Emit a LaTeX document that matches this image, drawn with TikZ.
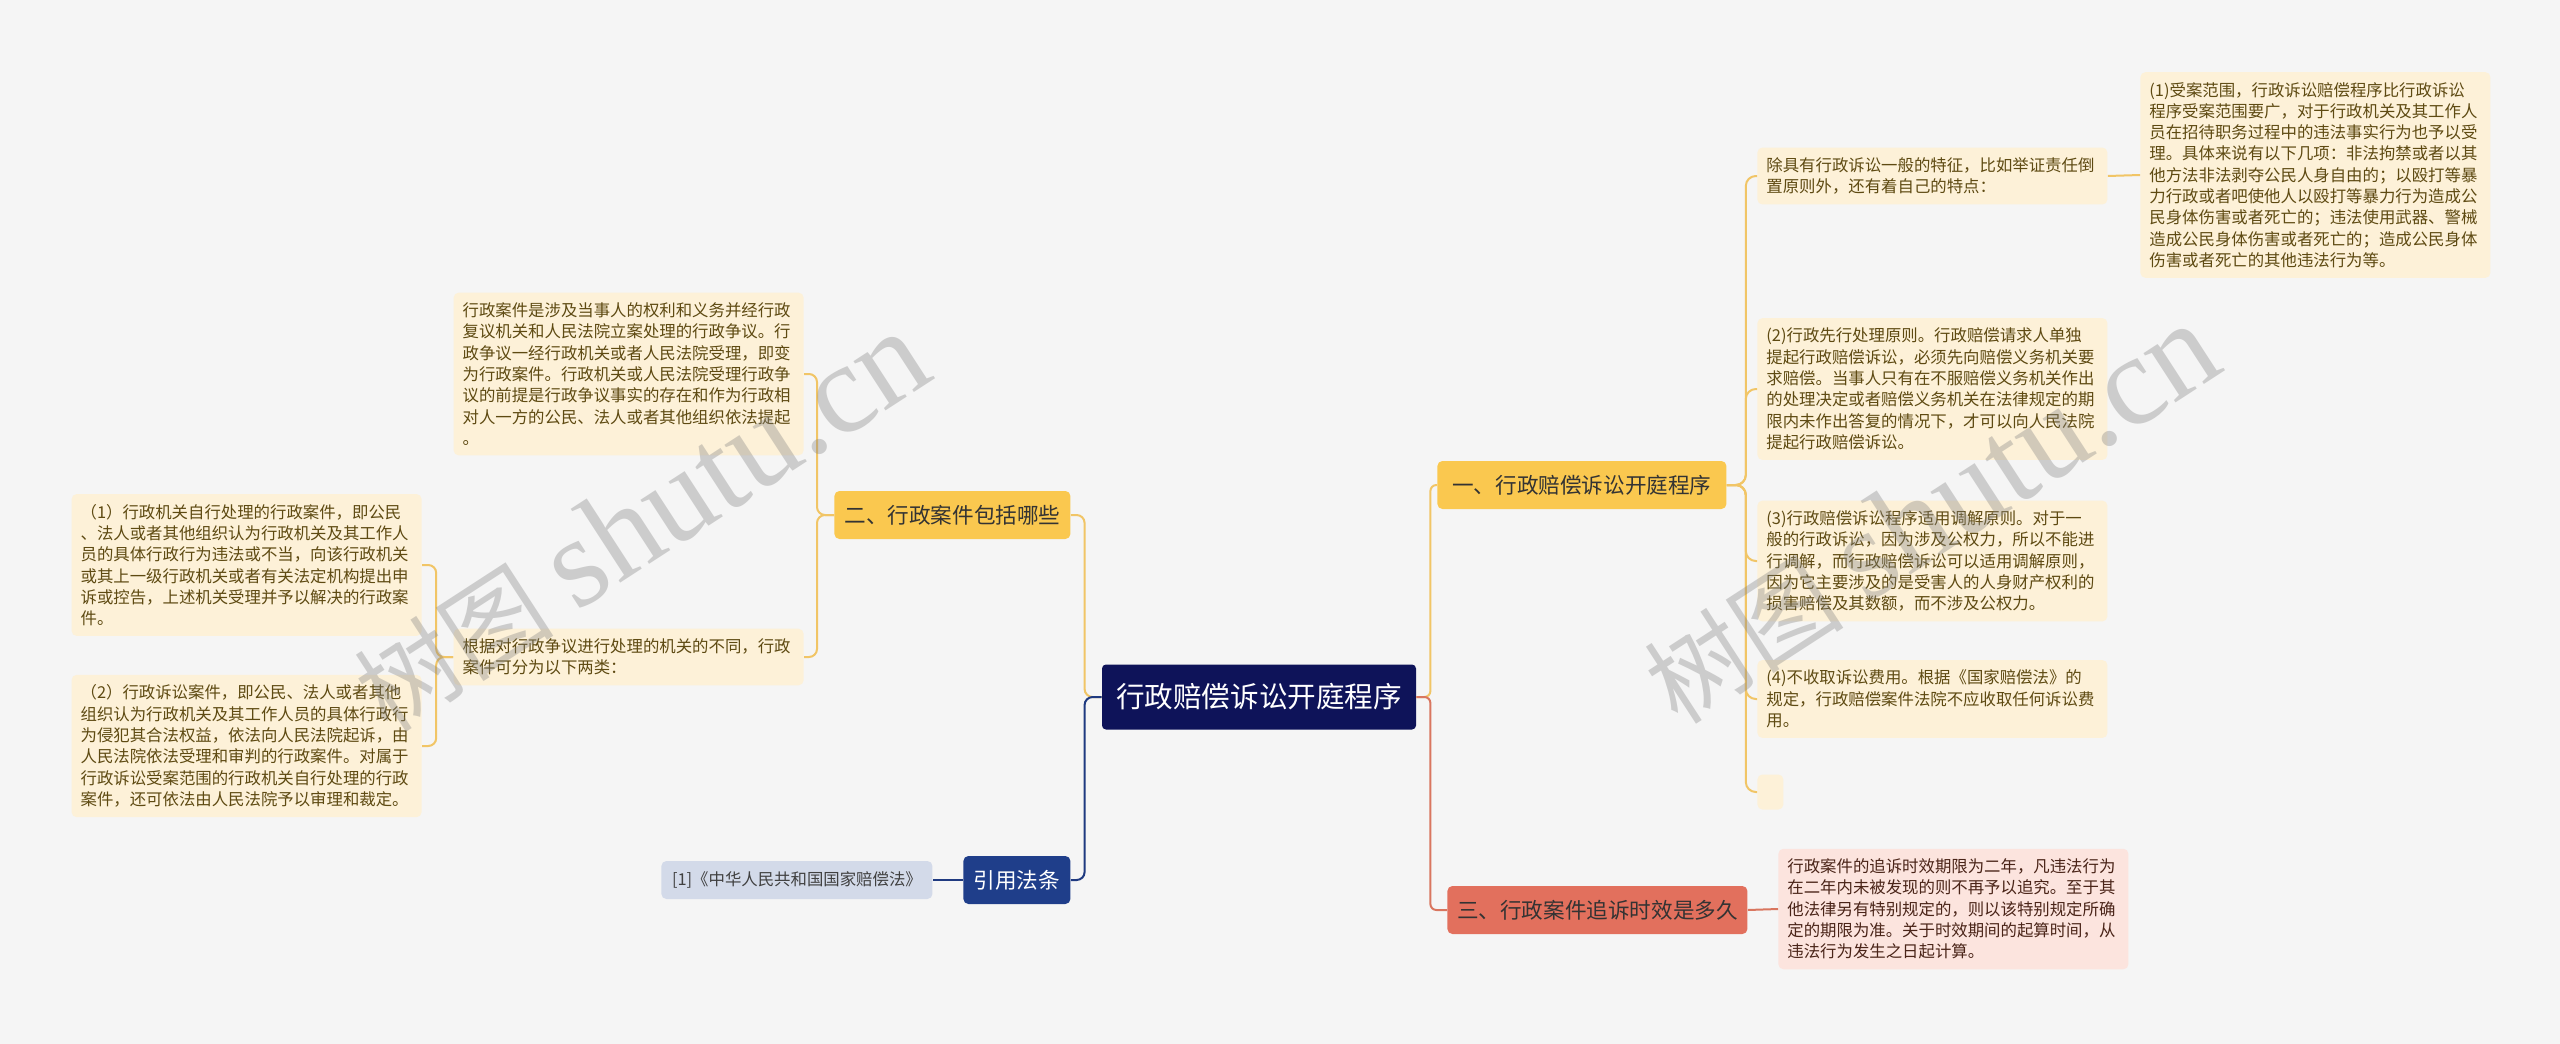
\documentclass[tikz,border=0pt]{standalone}
\usepackage{fontspec}
\setmainfont{Noto Sans CJK SC}
\newfontfamily\markfont{Liberation Serif}
\usetikzlibrary{positioning}
\definecolor{pagebg}{HTML}{F5F5F5}
\definecolor{rootnavy}{HTML}{0E1359}
\definecolor{goldfill}{HTML}{FAC84F}
\definecolor{goldline}{HTML}{F1C566}
\definecolor{creamfill}{HTML}{FDF1D8}
\definecolor{creamtext}{HTML}{5E4A12}
\definecolor{lawblue}{HTML}{1F3E8A}
\definecolor{lawline}{HTML}{1F3A80}
\definecolor{reffill}{HTML}{D3DAE9}
\definecolor{salmonfill}{HTML}{E2705D}
\definecolor{salmonline}{HTML}{D9765F}
\definecolor{pinkfill}{HTML}{FCE4DE}
\definecolor{pinktext}{HTML}{4A2418}
\newcommand{\marktext}{{\fontsize{50pt}{56pt}\selectfont 树图}\hspace{12pt}{\markfont\fontsize{64pt}{70pt}\selectfont shutu.cn}}

\begin{document}
\begin{tikzpicture}[x=0.5pt, y=-0.5pt,
  rootbox/.style={fill=rootnavy, rounded corners=2pt, text=white,
                  font=\fontsize{14.3pt}{16pt}\selectfont,
                  minimum width=157pt, minimum height=32.5pt, inner sep=0pt},
  topicbox/.style={rounded corners=2.5pt, font=\fontsize{10.8pt}{13pt}\selectfont,
                   minimum height=24pt, inner sep=0pt},
  goldtopic/.style={topicbox, fill=goldfill, text=black!80},
  leafbox/.style={rounded corners=2.5pt, fill=creamfill, text=creamtext,
                  text width=166pt, align=left, inner xsep=4.5pt, inner ysep=5pt,
                  font=\fontsize{8.2pt}{10.65pt}\selectfont},
  wire/.style={line width=1pt, rounded corners=5pt},
  goldwire/.style={wire, draw=goldline},
  navywire/.style={wire, draw=lawline},
  salmonwire/.style={wire, draw=salmonline},
  watermark/.style={rotate=33, text=gray, opacity=0.35, inner sep=0pt},
]
\fill[pagebg] (0,0) rectangle (2560,1044);
\useasboundingbox (0,0) rectangle (2560,1044);

% centre
\node[rootbox] (root) at (1259,697) {行政赔偿诉讼开庭程序};

% left side
\node[goldtopic, anchor=west, minimum width=118pt] (cases) at (834,515) {二、行政案件包括哪些};
\node[topicbox, anchor=west, fill=lawblue, text=white, minimum width=53.5pt] (law) at (963,880) {引用法条};
\node[topicbox, anchor=west, fill=reffill, text=black!75, minimum width=135.5pt,
      minimum height=19pt, font=\fontsize{8.2pt}{10pt}\selectfont] (lawref) at (661,880)
  {[1]《中华人民共和国国家赔偿法》};

\node[leafbox, anchor=east] (casedef) at (804,374)
  {行政案件是涉及当事人的权利和义务并经行政\\
   复议机关和人民法院立案处理的行政争议。行\\
   政争议一经行政机关或者人民法院受理，即变\\
   为行政案件。行政机关或人民法院受理行政争\\
   议的前提是行政争议事实的存在和作为行政相\\
   对人一方的公民、法人或者其他组织依法提起\\
   。};
\node[leafbox, anchor=east] (casekinds) at (804,657)
  {根据对行政争议进行处理的机关的不同，行政\\
   案件可分为以下两类：};
\node[leafbox, anchor=east] (kindone) at (422,565)
  {（1）行政机关自行处理的行政案件，即公民\\
   、法人或者其他组织认为行政机关及其工作人\\
   员的具体行政行为违法或不当，向该行政机关\\
   或其上一级行政机关或者有关法定机构提出申\\
   诉或控告，上述机关受理并予以解决的行政案\\
   件。};
\node[leafbox, anchor=east] (kindtwo) at (422,746)
  {（2）行政诉讼案件，即公民、法人或者其他\\
   组织认为行政机关及其工作人员的具体行政行\\
   为侵犯其合法权益，依法向人民法院起诉，由\\
   人民法院依法受理和审判的行政案件。对属于\\
   行政诉讼受案范围的行政机关自行处理的行政\\
   案件，还可依法由人民法院予以审理和裁定。};

% right side
\node[goldtopic, anchor=west, minimum width=144.5pt] (trial) at (1437,485) {一、行政赔偿诉讼开庭程序};
\node[topicbox, anchor=west, fill=salmonfill, text=black!80, minimum width=150pt] (limit) at (1447,910) {三、行政案件追诉时效是多久};

\node[leafbox, anchor=west] (traits) at (1757,176)
  {除具有行政诉讼一般的特征，比如举证责任倒\\
   置原则外，还有着自己的特点：};
\node[leafbox, anchor=west] (scope) at (2140,175)
  {(1)受案范围，行政诉讼赔偿程序比行政诉讼\\
   程序受案范围要广，对于行政机关及其工作人\\
   员在招待职务过程中的违法事实行为也予以受\\
   理。具体来说有以下几项：非法拘禁或者以其\\
   他方法非法剥夺公民人身自由的；以殴打等暴\\
   力行政或者吧使他人以殴打等暴力行为造成公\\
   民身体伤害或者死亡的；违法使用武器、警械\\
   造成公民身体伤害或者死亡的；造成公民身体\\
   伤害或者死亡的其他违法行为等。};
\node[leafbox, anchor=west] (first) at (1757,389)
  {(2)行政先行处理原则。行政赔偿请求人单独\\
   提起行政赔偿诉讼，必须先向赔偿义务机关要\\
   求赔偿。当事人只有在不服赔偿义务机关作出\\
   的处理决定或者赔偿义务机关在法律规定的期\\
   限内未作出答复的情况下，才可以向人民法院\\
   提起行政赔偿诉讼。};
\node[leafbox, anchor=west] (mediate) at (1757,561)
  {(3)行政赔偿诉讼程序适用调解原则。对于一\\
   般的行政诉讼，因为涉及公权力，所以不能进\\
   行调解，而行政赔偿诉讼可以适用调解原则，\\
   因为它主要涉及的是受害人的人身财产权利的\\
   损害赔偿及其数额，而不涉及公权力。};
\node[leafbox, anchor=west] (nofee) at (1757,699)
  {(4)不收取诉讼费用。根据《国家赔偿法》的\\
   规定，行政赔偿案件法院不应收取任何诉讼费\\
   用。};
\node[leafbox, anchor=west, text width=0pt, inner sep=0pt,
      minimum width=13pt, minimum height=17.5pt] (blank) at (1757,792) {};

\node[leafbox, anchor=west, fill=pinkfill, text=pinktext] (limittext) at (1778,909)
  {行政案件的追诉时效期限为二年，凡违法行为\\
   在二年内未被发现的则不再予以追究。至于其\\
   他法律另有特别规定的，则以该特别规定所确\\
   定的期限为准。关于时效期间的起算时间，从\\
   违法行为发生之日起计算。};

% connectors
\draw[goldwire, rounded corners=4pt] (root.west) -- ++(-17,0) |- (cases.east);
\draw[navywire, rounded corners=4pt] (root.west) -- ++(-17,0) |- (law.east);
\draw[navywire] (law.west) -- (lawref.east);
\draw[goldwire, rounded corners=3pt] (root.east) -- ++(14,0) |- (trial.west);
\draw[salmonwire, rounded corners=3pt] (root.east) -- ++(14,0) |- (limit.west);
\draw[salmonwire] (limit.east) -- (limittext.west);

\foreach \leaf in {casedef, casekinds}
  \draw[goldwire, rounded corners=4pt] (cases.west) -- ++(-17,0) |- (\leaf.east);
\foreach \leaf in {kindone, kindtwo}
  \draw[goldwire, rounded corners=4pt] (casekinds.west) -- ++(-17,0) |- (\leaf.east);
\foreach \leaf in {traits, first, mediate, nofee, blank}
  \draw[goldwire] (trial.east) -- ++(19,0) |- (\leaf.west);
\draw[goldwire] (traits.east) -- (scope.west);

% watermark
\node[watermark] (markleft) at (641,522) {\marktext};
\node[watermark] (markright) at (1931,514) {\marktext};
\end{tikzpicture}
\end{document}
